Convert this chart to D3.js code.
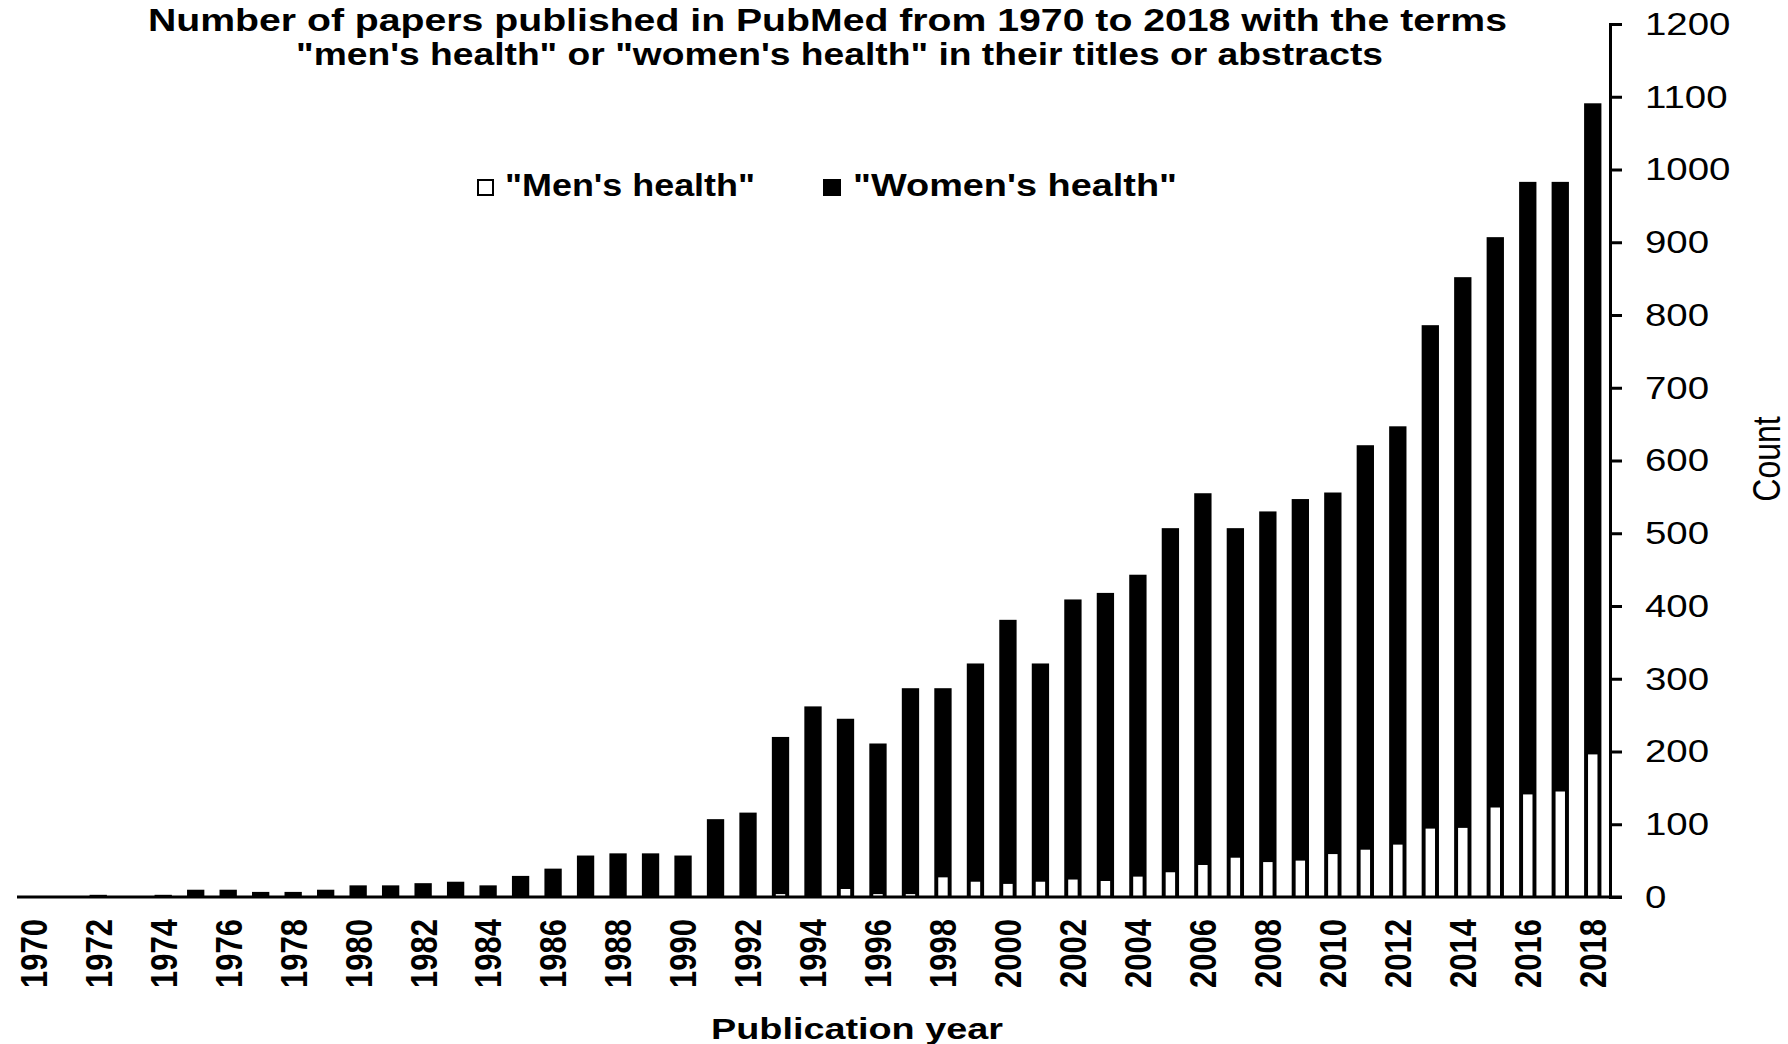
<!DOCTYPE html>
<html>
<head>
<meta charset="utf-8">
<script src="https://cdn.jsdelivr.net/npm/d3@7"></script>
<style>
  body { margin: 0; background: #fff; }
  svg { display: block; font-family: "Liberation Sans", Arial, sans-serif; }
</style>
</head>
<body>
<svg id="chart" width="1788" height="1044"></svg>
<script>
// years on the x axis
var years = d3.range(1970, 2019);

// "women's health" counts (black bars)
var women = [0, 0, 3, 0, 3, 10, 10, 7, 7, 10,
             16, 16, 19, 21, 16, 29, 39, 57, 60, 60,
             57, 107, 116, 220, 262, 245, 211, 287, 287, 321,
             381, 321, 409, 418, 443, 507, 555, 507, 530, 547,
             556, 621, 647, 786, 852, 907, 983, 983, 1091];

// "men's health" counts (white bars)
var men = [0, 0, 0, 0, 0, 0, 0, 0, 0, 0,
           0, 0, 0, 0, 0, 0, 1, 0, 1, 0,
           1, 1, 0, 4, 1, 11, 4, 4, 27, 21,
           18, 21, 24, 22, 28, 34, 44, 54, 48, 50,
           59, 65, 72, 94, 95, 123, 141, 145, 196];

var yTicks = d3.range(0, 1201, 100);

var titleLines = ['Number of papers published in PubMed from 1970 to 2018 with the terms',
                  '"men\'s health" or "women\'s health" in their titles or abstracts'];
var legendLabels = ['"Men\'s health"', '"Women\'s health"'];

var svg = d3.select('#chart');
var stretch = 1.2; // the original picture is wider than tall

var x = d3.scaleBand()
  .domain(years)
  .range([17, 1609])
  .paddingInner(0.467)
  .paddingOuter(0.2335);

var y = d3.scaleLinear()
  .domain([0, 1200])
  .range([897, 24]);

function widen(sel, k){
  sel.each(function(){
    var len = this.getComputedTextLength();
    d3.select(this).attr('textLength', len * k).attr('lengthAdjust', 'spacingAndGlyphs');
  });
}

// bars
var rows = years.map(function(yr, i){ return {year: yr, women: women[i], men: men[i]}; });

svg.append('g').selectAll('rect')
  .data(rows)
  .join('rect')
  .attr('x', function(d){ return x(d.year); })
  .attr('width', x.bandwidth())
  .attr('y', function(d){ return y(d.women); })
  .attr('height', function(d){ return y(0) - y(d.women); })
  .style('fill', '#000');

var menW = x.step() * 0.29;
svg.append('g').selectAll('rect')
  .data(rows.filter(function(d){ return d.men > 0; }))
  .join('rect')
  .attr('x', function(d){ return x(d.year) + x.bandwidth() / 2 - menW / 2; })
  .attr('width', menW)
  .attr('y', function(d){ return y(d.men); })
  .attr('height', function(d){ return y(0) - y(d.men); })
  .style('fill', '#fff');

// y axis on the right
var yAxisX = 1610;
var yAxis = svg.append('g')
  .attr('transform', 'translate(' + yAxisX + ',0)')
  .call(d3.axisRight(y).tickValues(yTicks).tickSize(12).tickPadding(23).tickFormat(d3.format('d')));
yAxis.selectAll('path, line').style('stroke', '#000').style('stroke-width', 3);
yAxis.selectAll('text')
  .style('font-size', '32px')
  .style('fill', '#000');
widen(yAxis.selectAll('text'), stretch);

// x axis
var xAxis = svg.append('g')
  .attr('transform', 'translate(0,' + y(0) + ')')
  .call(d3.axisBottom(x).tickValues(years.filter(function(d){ return d % 2 == 0; })).tickSize(0));
xAxis.select('.domain').remove();
xAxis.append('line')
  .attr('x1', x.range()[0])
  .attr('x2', yAxisX + 12)
  .style('stroke', '#000')
  .style('stroke-width', 3);
xAxis.selectAll('.tick text')
  .attr('x', 0)
  .attr('y', 0)
  .attr('dy', '0.36em')
  .attr('transform', 'translate(0,22) scale(' + stretch + ',1) rotate(-90)')
  .style('text-anchor', 'end')
  .style('font-size', '31px')
  .style('font-weight', 'bold')
  .style('fill', '#000');

// title
svg.append('text')
  .attr('x', 148).attr('y', 31)
  .attr('textLength', 1359).attr('lengthAdjust', 'spacingAndGlyphs')
  .style('font-size', '31px').style('font-weight', 'bold')
  .text(titleLines[0]);
svg.append('text')
  .attr('x', 296).attr('y', 65)
  .attr('textLength', 1087).attr('lengthAdjust', 'spacingAndGlyphs')
  .style('font-size', '31px').style('font-weight', 'bold')
  .text(titleLines[1]);

// legend
var legend = svg.append('g');
legend.append('rect')
  .attr('x', 478).attr('y', 180).attr('width', 15).attr('height', 15)
  .style('fill', '#fff').style('stroke', '#000').style('stroke-width', 2);
legend.append('text')
  .attr('x', 505).attr('y', 196)
  .attr('textLength', 250).attr('lengthAdjust', 'spacingAndGlyphs')
  .style('font-size', '31px').style('font-weight', 'bold')
  .text(legendLabels[0]);
legend.append('rect')
  .attr('x', 823).attr('y', 179).attr('width', 18).attr('height', 17)
  .style('fill', '#000');
legend.append('text')
  .attr('x', 853).attr('y', 196)
  .attr('textLength', 324).attr('lengthAdjust', 'spacingAndGlyphs')
  .style('font-size', '31px').style('font-weight', 'bold')
  .text(legendLabels[1]);

// axis titles
svg.append('text')
  .attr('x', 711).attr('y', 1039)
  .attr('textLength', 292).attr('lengthAdjust', 'spacingAndGlyphs')
  .style('font-size', '30px').style('font-weight', 'bold')
  .text('Publication year');

svg.append('text')
  .attr('transform', 'translate(1767,459) scale(' + stretch + ',1) rotate(-90)')
  .attr('dy', '0.35em')
  .style('text-anchor', 'middle')
  .style('font-size', '32px')
  .text('Count');
</script>
</body>
</html>
